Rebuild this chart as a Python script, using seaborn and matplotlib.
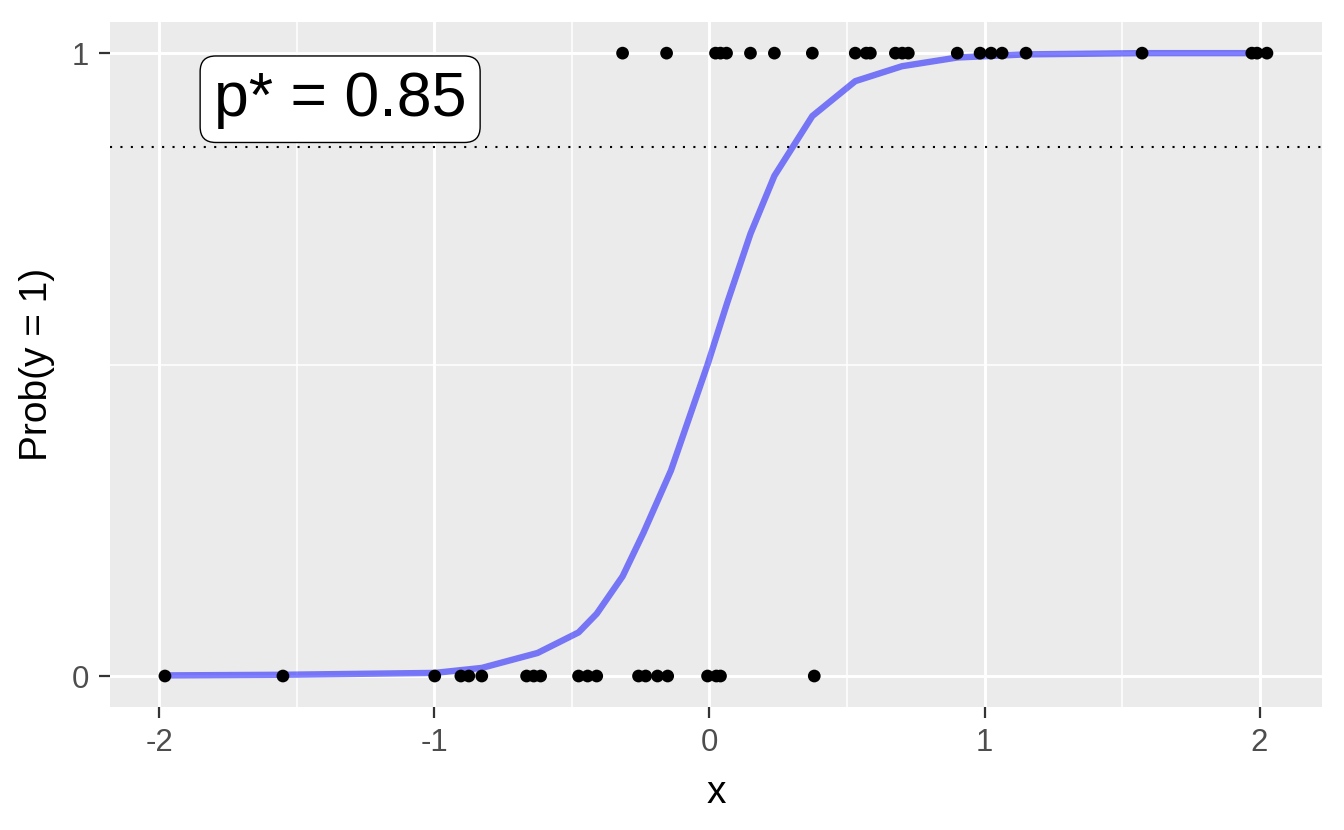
import numpy as np
import pandas as pd
import matplotlib
matplotlib.use("Agg")
import matplotlib.pyplot as plt
from matplotlib.ticker import FixedLocator
import seaborn as sns

# Observed points (y = 1 row and y = 0 row)
x_one = [-0.316, -0.156, 0.022, 0.040, 0.062, 0.149, 0.236, 0.374, 0.530, 0.570,
         0.585, 0.676, 0.701, 0.723, 0.901, 0.984, 1.024, 1.064, 1.151, 1.573,
         1.972, 1.991, 2.027]
x_zero = [-1.980, -1.551, -0.999, -0.904, -0.875, -0.828, -0.665, -0.639, -0.614,
          -0.476, -0.443, -0.410, -0.258, -0.232, -0.189, -0.152, -0.007, 0.025,
          0.040, 0.381]

# Fitted probability curve
curve_x = [-1.980, -1.551, -0.999, -0.828, -0.625, -0.476, -0.410, -0.316, -0.240,
           -0.140, -0.007, 0.065, 0.149, 0.236, 0.374, 0.530, 0.700, 0.901, 1.151,
           1.573, 2.027]
curve_p = [0.001, 0.002, 0.005, 0.013, 0.037, 0.070, 0.100, 0.160, 0.230,
           0.330, 0.500, 0.600, 0.710, 0.803, 0.899, 0.955, 0.979, 0.993, 0.998,
           1.000, 1.000]

p_star = 0.85

pts = pd.DataFrame({"x": x_one + x_zero, "y": [1] * len(x_one) + [0] * len(x_zero)})
fit = pd.DataFrame({"x": curve_x, "p": curve_p})

sns.set_theme(style="darkgrid")
plt.rcParams["font.family"] = ["Liberation Sans", "DejaVu Sans"]

fig = plt.figure(figsize=(6.72, 4.15), dpi=200)
ax = fig.add_axes([0.0818, 0.148, 0.9836 - 0.0818, 0.9735 - 0.148])
ax.set_facecolor("#EBEBEB")

sns.lineplot(x="x", y="p", data=fit, ax=ax, color="blue", alpha=0.5, lw=2.3,
             sort=False, zorder=3)
sns.scatterplot(x="x", y="y", data=pts, ax=ax, color="black", s=21,
                edgecolor="none", zorder=4)
ax.axhline(p_star, color="black", ls=(0, (1, 4)), lw=0.75, zorder=2)

ax.text(-1.343, 0.926, f"p* = {p_star}", fontsize=22.5, color="black",
        ha="center", va="center", zorder=5,
        bbox=dict(boxstyle="round,pad=0.22,rounding_size=0.25", fc="white",
                  ec="black", lw=0.5))

ax.set_xlim(-2.180, 2.227)
ax.set_ylim(-0.05, 1.05)
ax.xaxis.set_major_locator(FixedLocator([-2, -1, 0, 1, 2]))
ax.xaxis.set_minor_locator(FixedLocator([-1.5, -0.5, 0.5, 1.5]))
ax.yaxis.set_major_locator(FixedLocator([0, 1]))
ax.yaxis.set_minor_locator(FixedLocator([0.5]))
ax.set_xticklabels(["-2", "-1", "0", "1", "2"])
ax.set_yticklabels(["0", "1"])

ax.grid(which="major", color="white", lw=1.05)
ax.grid(which="minor", color="white", lw=0.55)
ax.set_axisbelow(True)
for s in ax.spines.values():
    s.set_visible(False)

ax.tick_params(which="major", length=4, width=0.8, color="#333333",
               labelsize=11.2, labelcolor="#4D4D4D", pad=3.5,
               bottom=True, left=True)
ax.tick_params(which="minor", length=0, bottom=False, left=False)

ax.set_xlabel("x", fontsize=14, color="black", labelpad=6)
ax.set_ylabel("Prob(y = 1)", fontsize=14, color="black", labelpad=6)

fig.savefig("out.png", dpi=200)
